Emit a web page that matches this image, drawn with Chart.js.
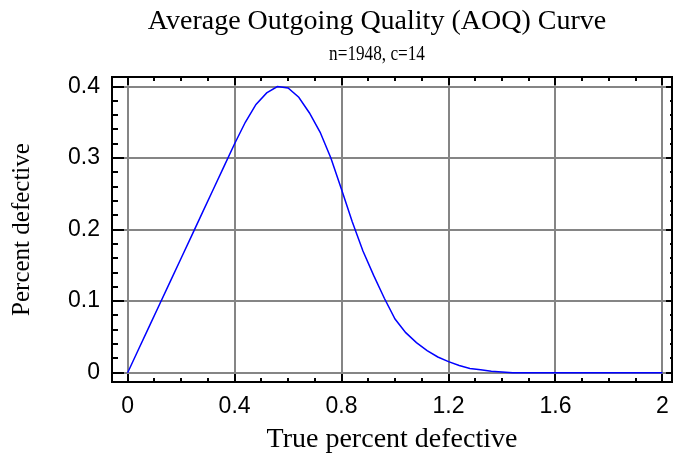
<!DOCTYPE html>
<html>
<head>
<meta charset="utf-8">
<script src="https://cdn.jsdelivr.net/npm/chart.js@4.4.1/dist/chart.umd.min.js"></script>
<style>
html, body { margin: 0; padding: 0; background: #fff; }
#wrap { width: 673px; height: 458px; }
</style>
</head>
<body>
<div id="wrap"><canvas id="aoqChart" width="673" height="458"></canvas></div>
<script>
// chart data
var truePct = [0, 0.04, 0.08, 0.12, 0.16, 0.2, 0.24, 0.28, 0.32, 0.36,
	0.4, 0.44, 0.48, 0.52, 0.56, 0.6, 0.64, 0.68, 0.72, 0.76,
	0.8, 0.84, 0.88, 0.92, 0.96, 1, 1.04, 1.08, 1.12, 1.16,
	1.2, 1.24, 1.28, 1.32, 1.36, 1.4, 1.44, 1.48, 1.52, 1.56,
	1.6, 1.64, 1.68, 1.72, 1.76, 1.8, 1.84, 1.88, 1.92, 1.96, 2];
var aoqPct = [0, 0.032, 0.064, 0.096, 0.128, 0.16, 0.192, 0.224, 0.256, 0.288,
	0.32, 0.35, 0.375, 0.391, 0.4, 0.398, 0.385, 0.363, 0.336, 0.3,
	0.256, 0.211, 0.17, 0.136, 0.104, 0.075, 0.056, 0.042, 0.031, 0.022,
	0.0155, 0.01, 0.006, 0.004, 0.002, 0.001, 0, 0, 0, 0,
	0, 0, 0, 0, 0, 0, 0, 0, 0, 0, 0];
var xTicks = [0, 0.4, 0.8, 1.2, 1.6, 2];
var yTicks = [0, 0.1, 0.2, 0.3, 0.4];
var xMinorStep = 0.1;
var yMinorStep = 0.02;

var titleText = "Average Outgoing Quality (AOQ) Curve";
var subTitleText = "n=1948, c=14";
var xTitle = "True percent defective";
var yTitle = "Percent defective";

var serif = "'Liberation Serif', 'Times New Roman', serif";
var sans = "'Liberation Sans', Arial, sans-serif";

// titles are centred a bit left of the plot centre, as in the original
var titlesPlugin = {
	id: 'titles',
	afterDraw: function(chart){
		var ctx = chart.ctx;
		ctx.save();
		ctx.fillStyle = '#000';
		ctx.textAlign = 'center';
		ctx.textBaseline = 'alphabetic';
		ctx.font = '28px ' + serif;
		ctx.fillText(titleText, 377, 29);
		ctx.translate(377, 60);
		ctx.scale(0.86, 1);
		ctx.font = '20px ' + serif;
		ctx.fillText(subTitleText, 0, 0);
		ctx.restore();
	}
};

// box round the plot with inward tick marks on all four sides
var framePlugin = {
	id: 'frame',
	afterDraw: function(chart){
		var ctx = chart.ctx, a = chart.chartArea;
		var xs = chart.scales.x, ys = chart.scales.y;
		ctx.save();
		ctx.strokeStyle = '#000';
		ctx.lineWidth = 2;
		ctx.strokeRect(a.left, a.top, a.right - a.left, a.bottom - a.top);
		ctx.beginPath();
		var i, v, p, major;
		for (i = 0; i <= 20; i++) {
			v = i * xMinorStep;
			p = Math.round(xs.getPixelForValue(v));
			major = i % 4 === 0;
			ctx.moveTo(p, a.bottom); ctx.lineTo(p, a.bottom - (major ? 8 : 4));
			ctx.moveTo(p, a.top); ctx.lineTo(p, a.top + (major ? 8 : 4));
		}
		for (i = 0; i <= 20; i++) {
			v = i * yMinorStep;
			p = Math.round(ys.getPixelForValue(v));
			major = i % 5 === 0;
			ctx.moveTo(a.left, p); ctx.lineTo(a.left + (major ? 12 : 6), p);
			ctx.moveTo(a.right, p); ctx.lineTo(a.right - (major ? 6 : 2), p);
		}
		ctx.stroke();
		ctx.restore();
	}
};

var points = truePct.map(function(x, i){ return {x: x, y: aoqPct[i]}; });

new Chart(document.getElementById('aoqChart').getContext('2d'), {
	type: 'line',
	data: {
		datasets: [{
			data: points,
			borderColor: '#0000ff',
			borderWidth: 1.5,
			pointRadius: 0,
			tension: 0,
			fill: false
		}]
	},
	options: {
		responsive: false,
		animation: false,
		devicePixelRatio: 1,
		layout: { padding: { top: 77, right: 1, left: 0, bottom: 0 } },
		plugins: { legend: { display: false }, tooltip: { enabled: false } },
		scales: {
			x: {
				type: 'linear',
				min: -0.0585,
				max: 2.0358,
				afterBuildTicks: function(s){ s.ticks = xTicks.map(function(v){ return {value: v}; }); },
				afterFit: function(s){ s.height = 76; s.paddingLeft = 0; s.paddingRight = 0; },
				grid: { color: '#858585', lineWidth: 2, drawTicks: false },
				border: { display: false },
				ticks: {
					color: '#000', font: { family: sans, size: 23 }, padding: 11,
					maxRotation: 0, autoSkip: false,
					callback: function(v){ return String(v); }
				},
				title: {
					display: true, text: xTitle, color: '#000',
					font: { family: serif, size: 28 }, padding: { top: 0, bottom: 2 }
				}
			},
			y: {
				min: -0.013,
				max: 0.4133,
				afterBuildTicks: function(s){ s.ticks = yTicks.map(function(v){ return {value: v}; }); },
				afterFit: function(s){ s.width = 112; s.paddingTop = 0; s.paddingBottom = 0; },
				grid: { color: '#858585', lineWidth: 2, drawTicks: false },
				border: { display: false },
				ticks: {
					color: '#000', font: { family: sans, size: 23 }, padding: 12,
					autoSkip: false,
					callback: function(v){ return String(v); }
				},
				title: {
					display: true, text: yTitle, color: '#000',
					font: { family: serif, size: 25 }, padding: { top: 7, bottom: 0 }
				}
			}
		}
	},
	plugins: [titlesPlugin, framePlugin]
});
</script>
</body>
</html>
